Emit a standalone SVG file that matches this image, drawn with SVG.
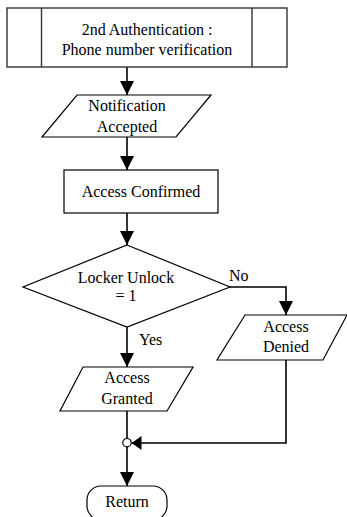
<svg xmlns="http://www.w3.org/2000/svg" width="347" height="517" viewBox="0 0 347 517">
  <defs>
    <style>
      .shape { fill: #ffffff; stroke: #000000; stroke-width: 1.2; }
      .box { fill: #ffffff; stroke: #333333; stroke-width: 1.4; }
      .wire { fill: none; stroke: #000000; stroke-width: 1.6; }
      .lbl { font-family: "Liberation Serif", "Times New Roman", serif; font-size: 16px; fill: #000000; text-anchor: middle; }
      .tag { font-family: "Liberation Serif", "Times New Roman", serif; font-size: 16px; fill: #000000; }
    </style>
    <marker id="arrow" markerWidth="14" markerHeight="15" refX="14" refY="7" orient="auto" markerUnits="userSpaceOnUse">
      <path d="M0,0 L14,7 L0,14 Z" fill="#000000"/>
    </marker>
    <marker id="arrow-short" markerWidth="10" markerHeight="14" refX="10" refY="7" orient="auto" markerUnits="userSpaceOnUse">
      <path d="M0,0 L10,7 L0,14 Z" fill="#000000"/>
    </marker>
  </defs>

  <g id="connectors">
    <line class="wire" x1="127" y1="67" x2="127" y2="95" marker-end="url(#arrow)"/>
    <line class="wire" x1="127" y1="137" x2="127" y2="170" marker-end="url(#arrow)"/>
    <line class="wire" x1="127" y1="213" x2="127" y2="245" marker-end="url(#arrow)"/>
    <polyline class="wire" points="230,287 286,287 286,315" marker-end="url(#arrow)"/>
    <line class="wire" x1="127" y1="327" x2="127" y2="367" marker-end="url(#arrow)"/>
    <line class="wire" x1="127" y1="411" x2="127" y2="438.5"/>
    <polyline class="wire" points="286,360 286,443 131.5,443" marker-end="url(#arrow-short)"/>
    <line class="wire" x1="127" y1="447" x2="127" y2="486" marker-end="url(#arrow)"/>
    <circle cx="127" cy="442.7" r="4.2" fill="#ffffff" stroke="#000000" stroke-width="1.2"/>
    <text class="tag" x="229" y="281">No</text>
    <text class="tag" x="139" y="345">Yes</text>
  </g>

  <g id="phone-verification">
    <rect class="box" x="7" y="8" width="280" height="59"/>
    <line class="box" x1="41.5" y1="8" x2="41.5" y2="67"/>
    <line class="box" x1="252" y1="8" x2="252" y2="67"/>
    <text class="lbl" x="147" y="35">2nd Authentication :</text>
    <text class="lbl" x="147" y="55">Phone number verification</text>
  </g>

  <g id="notification-accepted">
    <polygon class="shape" points="77,95 211,95 176,137 42,137"/>
    <text class="lbl" x="127" y="111">Notification</text>
    <text class="lbl" x="127" y="132">Accepted</text>
  </g>

  <g id="access-confirmed">
    <rect class="shape" x="64" y="170" width="154" height="43"/>
    <text class="lbl" x="141" y="197">Access Confirmed</text>
  </g>

  <g id="locker-unlock">
    <polygon class="shape" points="127,245 230,287 127,327 23,287"/>
    <text class="lbl" x="126" y="283">Locker Unlock</text>
    <text class="lbl" x="126" y="301">= 1</text>
  </g>

  <g id="access-denied">
    <polygon class="shape" points="245,315 347,315 323,360 217,360"/>
    <text class="lbl" x="286" y="332">Access</text>
    <text class="lbl" x="286" y="352">Denied</text>
  </g>

  <g id="access-granted">
    <polygon class="shape" points="83,367 193,367 167,411 60,411"/>
    <text class="lbl" x="127" y="383">Access</text>
    <text class="lbl" x="127" y="404">Granted</text>
  </g>

  <g id="return">
    <rect class="shape" x="87" y="486" width="80" height="34" rx="14" ry="14"/>
    <text class="lbl" x="127" y="507">Return</text>
  </g>
</svg>
